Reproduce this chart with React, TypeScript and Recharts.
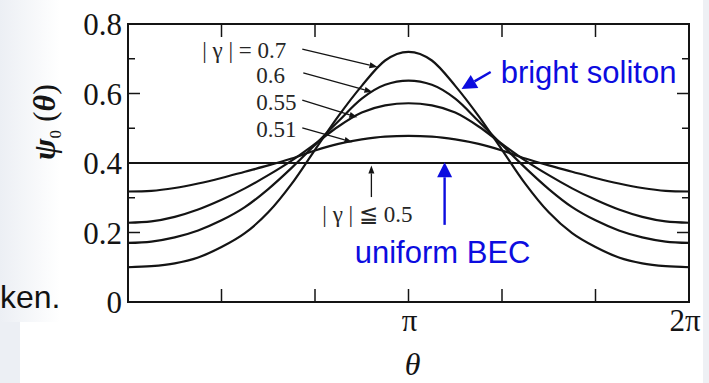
import React from "react";
import {
  LineChart,
  Line,
  XAxis,
  YAxis,
  ReferenceArea,
  ReferenceLine,
} from "recharts";

const PI = Math.PI;
const W = 709;
const H = 383;
const M = { top: 24, right: 20, bottom: 51, left: 68 };
const PLOT_TOP = M.top;
const PLOT_RIGHT = W - M.right;

const SERIF = '"Liberation Serif", "Times New Roman", "DejaVu Serif", serif';
const SANS = '"Liberation Sans", Arial, sans-serif';
const INK = "#141414";
const BLUE = "#0c0cdf";

// θ sampled every π/12 over one period
const thetaSteps = [
  0, 1, 2, 3, 4, 5, 6, 7, 8, 9, 10, 11, 12, 13, 14, 15, 16, 17, 18, 19, 20, 21,
  22, 23, 24,
];

// ψ0(θ) for each |γ|
const psi07 = [
  0.1, 0.103, 0.111, 0.128, 0.158, 0.198, 0.258, 0.34, 0.438, 0.535, 0.622,
  0.695, 0.72, 0.695, 0.622, 0.535, 0.438, 0.34, 0.258, 0.198, 0.158, 0.128,
  0.111, 0.103, 0.1,
];
const psi06 = [
  0.17, 0.174, 0.186, 0.206, 0.235, 0.273, 0.325, 0.386, 0.452, 0.52, 0.585,
  0.625, 0.637, 0.625, 0.585, 0.52, 0.452, 0.386, 0.325, 0.273, 0.235, 0.206,
  0.186, 0.174, 0.17,
];
const psi055 = [
  0.228, 0.232, 0.245, 0.266, 0.294, 0.327, 0.365, 0.407, 0.455, 0.505, 0.545,
  0.566, 0.572, 0.566, 0.545, 0.505, 0.455, 0.407, 0.365, 0.327, 0.294, 0.266,
  0.245, 0.232, 0.228,
];
const psi051 = [
  0.318, 0.32, 0.328, 0.341, 0.357, 0.375, 0.393, 0.413, 0.436, 0.455, 0.468,
  0.476, 0.478, 0.476, 0.468, 0.455, 0.436, 0.413, 0.393, 0.375, 0.357, 0.341,
  0.328, 0.32, 0.318,
];
// |γ| ≦ 0.5: uniform state
const psiUniform = [
  0.4, 0.4, 0.4, 0.4, 0.4, 0.4, 0.4, 0.4, 0.4, 0.4, 0.4, 0.4, 0.4, 0.4, 0.4,
  0.4, 0.4, 0.4, 0.4, 0.4, 0.4, 0.4, 0.4, 0.4, 0.4,
];

const xTicks = [0, 1, 2, 3, 4, 5, 6].map((k) => (k * PI) / 3);
const xTickLabels = ["", "", "", "π", "", "", "2π"];
const yTicks = [0, 0.1, 0.2, 0.3, 0.4, 0.5, 0.6, 0.7, 0.8];
const yTickLabels = ["0", "", "0.2", "", "0.4", "", "0.6", "", "0.8"];

const data = thetaSteps.map((k, i) => ({
  theta: (k * PI) / 12,
  g07: psi07[i],
  g06: psi06[i],
  g055: psi055[i],
  g051: psi051[i],
  uniform: psiUniform[i],
}));

type Note = {
  from: [number, number];
  to: [number, number];
  text: string;
  dx: number;
  dy: number;
  anchor: "start" | "middle" | "end";
  blue?: boolean;
};

const notes: Note[] = [
  { from: [1.952, 0.728], to: [2.794, 0.676], text: "| γ | = 0.7", dx: -16, dy: 9, anchor: "end" },
  { from: [1.963, 0.659], to: [2.738, 0.604], text: "0.6", dx: -47, dy: 10, anchor: "start" },
  { from: [1.952, 0.581], to: [2.569, 0.532], text: "0.55", dx: -46, dy: 10, anchor: "start" },
  { from: [1.952, 0.501], to: [2.513, 0.46], text: "0.51", dx: -46, dy: 9, anchor: "start" },
  { from: [2.726, 0.302], to: [2.726, 0.393], text: "| γ | ≦ 0.5", dx: -4, dy: 25, anchor: "middle" },
  { from: [4.062, 0.662], to: [3.736, 0.613], text: "bright soliton", dx: 10, dy: 11, anchor: "start", blue: true },
  { from: [3.546, 0.222], to: [3.546, 0.402], text: "uniform BEC", dx: -2, dy: 38, anchor: "middle", blue: true },
];

const Arrow = (props: any) => {
  const { x1, y1, x2, y2, note } = props;
  const n: Note = note;
  const vx = x2 - x1;
  const vy = y2 - y1;
  const len = Math.hypot(vx, vy) || 1;
  const ux = vx / len;
  const uy = vy / len;
  const head = n.blue ? 15 : 8;
  const half = n.blue ? 7.5 : 3;
  const bx = x2 - ux * head;
  const by = y2 - uy * head;
  const color = n.blue ? BLUE : INK;
  const pts = `${x2},${y2} ${bx - uy * half},${by + ux * half} ${bx + uy * half},${by - ux * half}`;
  return (
    <g>
      <line x1={x1} y1={y1} x2={bx} y2={by} stroke={color} strokeWidth={n.blue ? 2.4 : 1.3} />
      <polygon points={pts} fill={color} />
      <text
        x={x1 + n.dx}
        y={y1 + n.dy}
        textAnchor={n.anchor}
        fill={n.blue ? BLUE : "#262626"}
        fontFamily={n.blue ? SANS : SERIF}
        fontSize={n.blue ? 31 : 23}
      >
        {n.text}
      </text>
    </g>
  );
};

// inward ticks on bottom and top edges
const XTick = (props: any) => {
  const { x, y, payload } = props;
  const idx = Math.round(payload.value / (PI / 3));
  const label = xTickLabels[idx] || "";
  return (
    <g>
      <line x1={x} y1={y} x2={x} y2={y - 13} stroke={INK} strokeWidth={1.5} />
      <line x1={x} y1={PLOT_TOP} x2={x} y2={PLOT_TOP + 13} stroke={INK} strokeWidth={1.5} />
      {label && (
        <text
          x={idx === 6 ? x - 4 : x + 1}
          y={y + 29}
          textAnchor="middle"
          fontFamily={SERIF}
          fontSize={31}
          fill={INK}
        >
          {label}
        </text>
      )}
    </g>
  );
};

// inward ticks on left and right edges, long ones at labelled values
const YTick = (props: any) => {
  const { x, y, payload } = props;
  const idx = Math.round(payload.value * 10);
  const label = yTickLabels[idx] || "";
  const len = label ? 12 : 7;
  return (
    <g>
      <line x1={x} y1={y} x2={x + len} y2={y} stroke={INK} strokeWidth={1.5} />
      <line x1={PLOT_RIGHT} y1={y} x2={PLOT_RIGHT - len} y2={y} stroke={INK} strokeWidth={1.5} />
      {label && (
        <text x={x - 6} y={y + 11} textAnchor="end" fontFamily={SERIF} fontSize={31} fill={INK}>
          {label}
        </text>
      )}
    </g>
  );
};

const XTitle = (props: any) => {
  const vb = props.viewBox;
  return (
    <text
      x={vb.x + vb.width / 2 + 4}
      y={vb.y + 73}
      textAnchor="middle"
      fontFamily={SERIF}
      fontStyle="italic"
      fontSize={32}
      fill={INK}
    >
      θ
    </text>
  );
};

const YTitle = (props: any) => {
  const vb = props.viewBox;
  const cx = vb.x - 13;
  const cy = vb.y + 98;
  return (
    <text
      transform={`translate(${cx},${cy}) rotate(-90)`}
      textAnchor="middle"
      fontFamily={SERIF}
      fontSize={32}
      fill={INK}
    >
      <tspan fontStyle="italic" fontWeight="bold">ψ</tspan>
      <tspan fontSize={17} dy={6}>0</tspan>
      <tspan dy={-6}> (</tspan>
      <tspan fontStyle="italic" fontWeight="bold">θ</tspan>
      <tspan>)</tspan>
    </text>
  );
};

const series = [
  { key: "g07" },
  { key: "g06" },
  { key: "g055" },
  { key: "g051" },
  { key: "uniform" },
];

export default function App() {
  return (
    <div
      style={{
        position: "absolute",
        left: 0,
        top: 0,
        width: W,
        height: H,
        background: "#ffffff",
        overflow: "hidden",
      }}
    >
      <div
        style={{
          position: "absolute",
          left: 0,
          top: 0,
          width: 60,
          height: 322,
          background: "linear-gradient(to right, #eceff4, rgba(255,255,255,0))",
        }}
      />
      <div
        style={{
          position: "absolute",
          left: 0,
          top: 322,
          width: 20,
          height: H - 322,
          background: "#eceff4",
        }}
      />
      <div
        style={{
          position: "absolute",
          left: 703,
          top: 0,
          width: 6,
          height: H,
          background: "#eef0f4",
        }}
      />
      <div
        style={{
          position: "absolute",
          left: 0,
          top: 278,
          fontFamily: SANS,
          fontSize: 32,
          lineHeight: "38px",
          color: "#111",
          whiteSpace: "nowrap",
        }}
      >
        ken.
      </div>
      <div style={{ position: "absolute", left: 0, top: 0 }}>
        <LineChart width={W} height={H} data={data} margin={M}>
          <XAxis
            dataKey="theta"
            type="number"
            domain={[0, 2 * PI]}
            ticks={xTicks}
            interval={0}
            axisLine={false}
            tickLine={false}
            tickSize={0}
            tickMargin={0}
            tick={<XTick />}
            label={{ content: (p: any) => <XTitle {...p} /> }}
          />
          <YAxis
            type="number"
            domain={[0, 0.8]}
            ticks={yTicks}
            interval={0}
            axisLine={false}
            tickLine={false}
            tickSize={0}
            tickMargin={0}
            tick={<YTick />}
            label={{ content: (p: any) => <YTitle {...p} /> }}
          />
          <ReferenceArea
            x1={0}
            x2={2 * PI}
            y1={0}
            y2={0.8}
            fill="none"
            stroke={INK}
            strokeWidth={2}
            ifOverflow="visible"
          />
          {series.map((s) => (
            <Line
              key={s.key}
              dataKey={s.key}
              type="monotone"
              stroke={INK}
              strokeWidth={2.2}
              dot={false}
              isAnimationActive={false}
            />
          ))}
          {notes.map((n, i) => (
            <ReferenceLine
              key={i}
              segment={[
                { x: n.from[0], y: n.from[1] },
                { x: n.to[0], y: n.to[1] },
              ]}
              ifOverflow="visible"
              shape={(p: any) => <Arrow {...p} note={n} />}
            />
          ))}
        </LineChart>
      </div>
    </div>
  );
}
